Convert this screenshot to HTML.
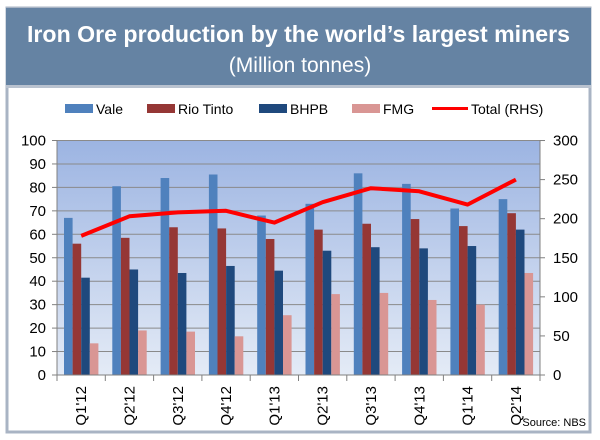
<!DOCTYPE html>
<html><head><meta charset="utf-8"><style>
html,body{margin:0;padding:0;background:#fff;width:600px;height:440px;overflow:hidden}
svg text{font-family:"Liberation Sans",sans-serif}
</style></head><body>
<svg width="600" height="440" viewBox="0 0 600 440" xmlns="http://www.w3.org/2000/svg">
<defs>
<linearGradient id="bg" x1="0" y1="0" x2="0" y2="1">
<stop offset="0" stop-color="#9cb4e2"/><stop offset="1" stop-color="#e4ebf6"/>
</linearGradient>
</defs>
<rect x="7" y="8" width="583" height="424" fill="#fff" stroke="#a9b4c4" stroke-width="3"/>
<rect x="6" y="8" width="585" height="77" fill="#6583a3"/>
<text x="27" y="42" fill="#fff" font-size="23" font-weight="bold" textLength="543" lengthAdjust="spacingAndGlyphs">Iron Ore production by the world’s largest miners</text>
<text x="300" y="72" text-anchor="middle" fill="#fff" font-size="21">(Million tonnes)</text>
<rect x="6" y="85" width="585" height="3" fill="#b9c2cf"/>
<g font-size="14" fill="#000">
<rect x="65" y="104" width="28" height="9" fill="#4f81bd"/><text x="96" y="114">Vale</text>
<rect x="147" y="104" width="28" height="9" fill="#953735"/><text x="178" y="114">Rio Tinto</text>
<rect x="259" y="104" width="28" height="9" fill="#1f497d"/><text x="290" y="114">BHPB</text>
<rect x="352" y="104" width="28" height="9" fill="#d99694"/><text x="383" y="114">FMG</text>
<rect x="432" y="107" width="36" height="3" fill="#ff0000"/><text x="471" y="114">Total (RHS)</text>
</g>
<rect x="57" y="140.5" width="483" height="234.5" fill="url(#bg)"/>
<g id="grid" stroke="#8a8a8a" stroke-width="1"></g>
<g id="bars"></g>
<g stroke="#808080" stroke-width="1" fill="none">
<line x1="57" y1="140" x2="57" y2="375"/><line x1="540" y1="140" x2="540" y2="375"/>
<line x1="52" y1="375" x2="545" y2="375"/>
</g>
<g id="ticks" stroke="#808080"></g>
<g id="labels" font-size="15" fill="#000"></g>
<polyline id="tot" fill="none" stroke="#ff0000" stroke-width="4" stroke-linejoin="round"/>
<text x="586" y="426" text-anchor="end" font-size="11" fill="#000">Source: NBS</text>
<script>
var ns="http://www.w3.org/2000/svg";
function el(t,a,p,txt){var e=document.createElementNS(ns,t);for(var k in a)e.setAttribute(k,a[k]);if(txt)e.textContent=txt;document.getElementById(p).appendChild(e);return e;}
var d=[[67,80.5,84,85.5,68,73,86,81.5,71,75],[56,58.5,63,62.5,58,62,64.5,66.5,63.5,69],[41.5,45,43.5,46.5,44.5,53,54.5,54,55,62],[13.5,19,18.5,16.5,25.5,34.5,35,32,30,43.5]];
var tot=[178,203,208,210,195,221,239,235,218,250];
var cols=["#4f81bd","#953735","#1f497d","#d99694"];
var cats=["Q1'12","Q2'12","Q3'12","Q4'12","Q1'13","Q2'13","Q3'13","Q4'13","Q1'14","Q2'14"];
var cw=48.3,x0=57,y0=375,k=2.345;
var pts=[];
for(var i=0;i<10;i++){
 var cx=x0+i*cw;
 for(var s=0;s<4;s++){var h=d[s][i]*k;el("rect",{x:cx+7+s*8.6,y:y0-h,width:8.6,height:h,fill:cols[s]},"bars");}
 pts.push((cx+cw/2).toFixed(1)+","+(y0-tot[i]*0.7817).toFixed(1));
 el("line",{x1:cx,x2:cx,y1:375,y2:381},"ticks");
 el("text",{x:0,y:0,"text-anchor":"end",transform:"translate("+(cx+cw/2+5)+",386) rotate(-90)"},"labels",cats[i]);
}
el("line",{x1:540,x2:540,y1:375,y2:381},"ticks");
for(var j=0;j<=10;j++){var y=y0-j*23.45;
 el("line",{x1:57,x2:540,y1:y,y2:y},"grid");
 el("line",{x1:52,x2:57,y1:y,y2:y},"ticks");
 el("text",{x:46,y:y+5,"text-anchor":"end"},"labels",String(j*10));
}
for(var j=0;j<=6;j++){var y=y0-j*39.08;
 el("line",{x1:540,x2:545,y1:y,y2:y},"ticks");
 el("text",{x:553,y:y+5},"labels",String(j*50));
}
document.getElementById("tot").setAttribute("points",pts.join(" "));
</script>
</svg>
</body></html>
